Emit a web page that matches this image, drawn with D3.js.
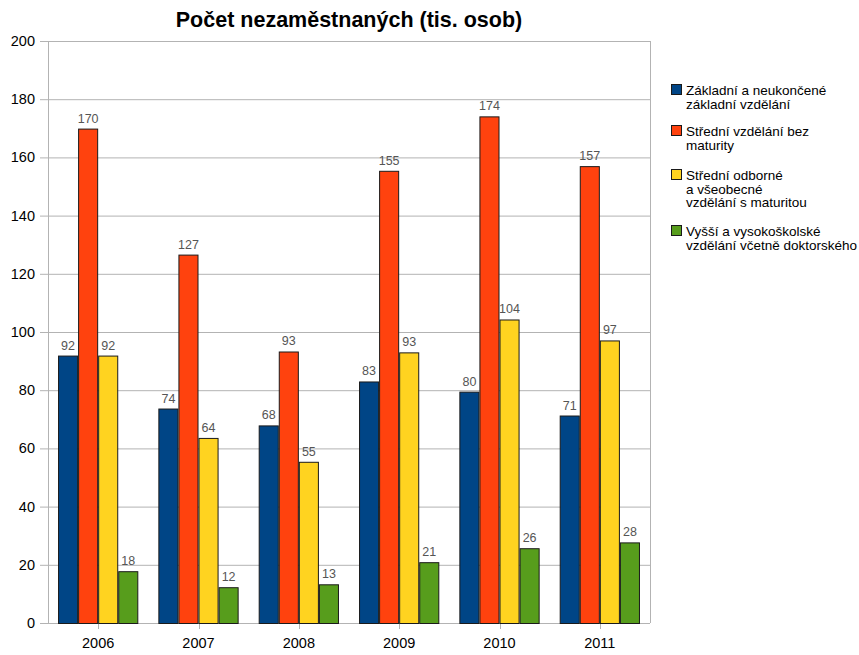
<!DOCTYPE html>
<html><head><meta charset="utf-8">
<script src="https://cdn.jsdelivr.net/npm/d3@7"></script>
<style>body{margin:0;background:#fff;}text{font-family:"Liberation Sans",Arial,sans-serif;}</style>
</head><body>
<svg id="c" width="859" height="655"></svg>
<script>
const years = ["2006","2007","2008","2009","2010","2011"];
const seriesNames = [
  ["Základní a neukončené","základní vzdělání"],
  ["Střední vzdělání bez","maturity"],
  ["Střední odborné","a všeobecné","vzdělání s maturitou"],
  ["Vyšší a vysokoškolské","vzdělání včetně doktorského"]
];
const zakladni = [91.9, 73.7, 67.9, 83.0, 79.5, 71.3];
const stredniBez = [169.9, 126.6, 93.3, 155.4, 174.1, 157.0];
const stredniS = [91.9, 63.6, 55.4, 93.0, 104.3, 97.1];
const vysoke = [17.8, 12.3, 13.3, 20.9, 25.7, 27.7];
const yTicks = [0,20,40,60,80,100,120,140,160,180,200];
const colors = ["#004586","#ff420e","#ffd320","#579d1c"];
const series = [zakladni, stredniBez, stredniS, vysoke];

const svg = d3.select("#c");
const m = {l:48, r:650, t:41, b:623};
const x = d3.scaleBand().domain(years).range([m.l, m.r]).paddingInner(0.2).paddingOuter(0.1);
const x1 = d3.scaleBand().domain(d3.range(4)).range([0, x.bandwidth()]);
const y = d3.scaleLinear().domain([0,200]).range([m.b, m.t]);

svg.append("g").selectAll("line").data(yTicks).join("line")
  .attr("x1", m.l-8).attr("x2", m.r).attr("y1", d=>y(d)+0.5).attr("y2", d=>y(d)+0.5)
  .attr("stroke","#b3b3b3").attr("stroke-width",1);
svg.append("line").attr("x1",m.l+0.5).attr("x2",m.l+0.5).attr("y1",m.t).attr("y2",m.b).attr("stroke","#b3b3b3");
svg.append("line").attr("x1",m.r+0.5).attr("x2",m.r+0.5).attr("y1",m.t).attr("y2",m.b).attr("stroke","#b3b3b3");

svg.append("g").selectAll("text").data(yTicks).join("text")
  .attr("x", 35).attr("y", d=>y(d)+5).attr("text-anchor","end")
  .attr("font-size",14.5).attr("fill","#000").text(d=>d);

const xs = d3.scalePoint().domain(years).range([m.l, m.r]).padding(0.5);
svg.append("g").selectAll("line").data(years).join("line")
  .attr("x1", d=>Math.round(xs(d))+0.5).attr("x2", d=>Math.round(xs(d))+0.5)
  .attr("y1", m.b).attr("y2", m.b+6).attr("stroke","#b3b3b3");
svg.append("g").selectAll("text").data(years).join("text")
  .attr("x", d=>xs(d)).attr("y", 648).attr("text-anchor","middle")
  .attr("font-size",14.5).attr("fill","#000").text(d=>d);

series.forEach((s,si)=>{
  const g = svg.append("g");
  g.selectAll("rect").data(s).join("rect")
    .attr("x",(d,i)=>x(years[i])+x1(si)+0.5)
    .attr("y",d=>y(d)+0.5)
    .attr("width",x1.bandwidth()-1)
    .attr("height",d=>y(0)-y(d))
    .attr("fill",colors[si]).attr("stroke","#1a1a1a").attr("stroke-width",1);
  g.selectAll("text").data(s).join("text")
    .attr("x",(d,i)=>x(years[i])+x1(si)+x1.bandwidth()/2)
    .attr("y",d=>y(d)-6)
    .attr("text-anchor","middle").attr("font-size",12.5).attr("fill","#555")
    .text(d=>Math.round(d));
});

svg.append("text").attr("x",349).attr("y",27).attr("text-anchor","middle")
  .attr("font-size",21.5).attr("font-weight","bold").attr("fill","#000")
  .text("Počet nezaměstnaných (tis. osob)");

const legY = [90, 131, 175, 231];
seriesNames.forEach((lines,i)=>{
  const g = svg.append("g");
  g.append("rect").attr("x",671.5).attr("y",legY[i]-5.5).attr("width",10).attr("height",10)
    .attr("fill",colors[i]).attr("stroke","#1a1a1a");
  lines.forEach((t,j)=>{
    g.append("text").attr("x",686).attr("y",legY[i]+5+j*13.5)
      .attr("font-size",13.5).attr("fill","#000").text(t);
  });
});
</script>
</body></html>
